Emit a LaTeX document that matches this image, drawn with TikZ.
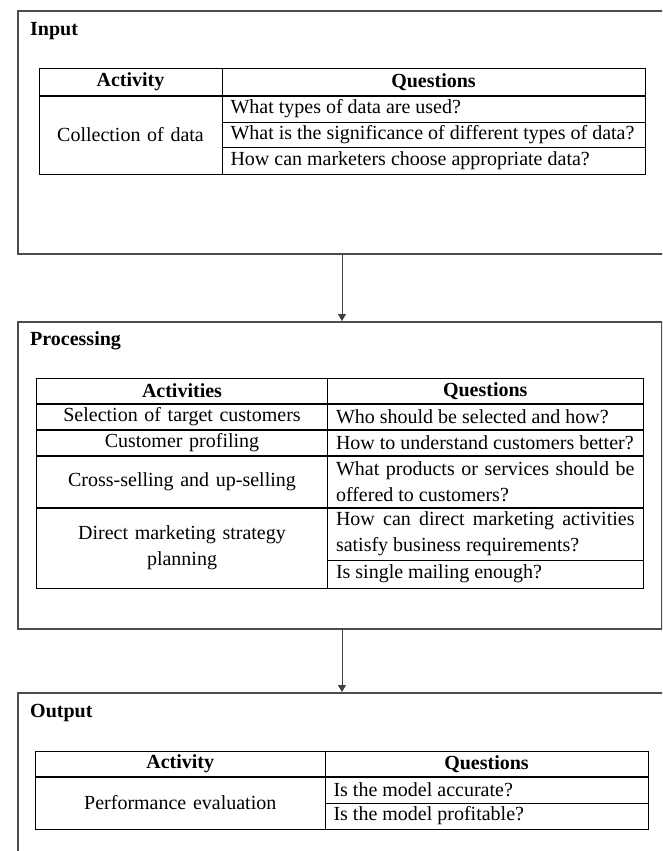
\documentclass[tikz,border=0pt]{standalone}
\usepackage{fontspec}
\setmainfont{Liberation Serif}
\usetikzlibrary{arrows.meta}
\newcommand{\tabfont}{\fontsize{20}{26}\selectfont}

\begin{document}
\begin{tikzpicture}[x=1pt, y=-1pt,
  stage/.style={draw=black!70, line width=1.6pt, anchor=north west, inner sep=0pt},
  title/.style={font=\tabfont\bfseries, anchor=west, inner sep=0pt},
  cell/.style ={draw=black, line width=.8pt, inner xsep=8.5pt, inner ysep=0pt,
                font=\tabfont},
  hd/.style   ={cell, align=center, font=\tabfont\bfseries},
  ac/.style   ={cell, align=center},
  qs/.style   ={cell, align=justify},
  rule/.style ={line width=2pt, draw=black},
  flow/.style ={-{Triangle[length=7pt,width=8pt]}, line width=.9pt, draw=black!75}]

  \useasboundingbox (0,0) rectangle (662,851);
  \clip (0,0) rectangle (662,851);

  % --- stage frames --------------------------------------------------------
  \node[stage, minimum width=650pt, minimum height=243pt] (input) at (17,10) {};
  \node[stage, minimum width=644pt, minimum height=307pt] (proc) at (17,321) {};
  \node[stage, minimum width=650pt, minimum height=200pt] (outp) at (17,692) {};

  \node[title] (inTitle) at (30,31) {Input};
  \node[title] (prTitle) at (30,341) {Processing};
  \node[title] (outTitle) at (30,713) {Output};

  % --- input table ---------------------------------------------------------
  \node[hd, text width=166pt, minimum height=28pt] (inAct) at (130.5,82) {Activity};
  \node[hd, text width=406pt, minimum height=28pt] (inQ) at (433.5,82) {Questions};
  \node[ac, text width=166pt, minimum height=78pt] (inCol) at (130.5,135)
    {Collection of data};
  \node[qs, text width=406pt, minimum height=26pt] (inQa) at (433.5,109)
    {What types of data are used?};
  \node[qs, text width=406pt, minimum height=25pt] (inQb) at (433.5,134.5)
    {What is the significance of different types of data?};
  \node[qs, text width=406pt, minimum height=27pt] (inQc) at (433.5,160.5)
    {How can marketers choose appropriate data?};
  \draw[rule] (inAct.south west) -- (inQ.south east);

  % --- processing table ----------------------------------------------------
  \node[hd, text width=274pt, minimum height=26pt] (prAct) at (182,391) {Activities};
  \node[hd, text width=298.5pt, minimum height=26pt] (prQ) at (485.25,391) {Questions};
  \node[ac, text width=274pt, minimum height=26pt] (prSel) at (182,417)
    {Selection of target customers};
  \node[qs, text width=298.5pt, minimum height=26pt] (prQa) at (485.25,417)
    {Who should be selected and how?};
  \node[ac, text width=274pt, minimum height=26pt] (prPro) at (182,443)
    {Customer profiling};
  \node[qs, text width=298.5pt, minimum height=26pt] (prQb) at (485.25,443)
    {How to understand customers better?};
  \node[ac, text width=274pt, minimum height=52pt] (prCross) at (182,482)
    {Cross-selling and up-selling};
  \node[qs, text width=298.5pt, minimum height=52pt] (prQc) at (485.25,482)
    {What products or services should be offered to customers?};
  \node[ac, text width=274pt, minimum height=80pt] (prDir) at (182,548)
    {Direct marketing strategy\\planning};
  \node[qs, text width=298.5pt, minimum height=52pt] (prQd) at (485.25,534)
    {How can direct marketing activities satisfy business requirements?};
  \node[qs, text width=298.5pt, minimum height=28pt] (prQe) at (485.25,574)
    {Is single mailing enough?};
  \draw[rule] (prAct.south west) -- (prQ.south east);
  \draw[rule] (prSel.south west) -- (prQa.south east);
  \draw[rule] (prPro.south west) -- (prQb.south east);
  \draw[rule] (prCross.south west) -- (prQc.south east);

  % --- output table --------------------------------------------------------
  \node[hd, text width=272.5pt, minimum height=26pt] (outAct) at (180.25,764) {Activity};
  \node[hd, text width=306pt, minimum height=26pt] (outQ) at (486.5,764) {Questions};
  \node[ac, text width=272.5pt, minimum height=52pt] (outPerf) at (180.25,803)
    {Performance evaluation};
  \node[qs, text width=306pt, minimum height=26pt] (outQa) at (486.5,790)
    {Is the model accurate?};
  \node[qs, text width=306pt, minimum height=26pt] (outQb) at (486.5,816)
    {Is the model profitable?};
  \draw[rule] (outAct.south west) -- (outQ.south east);

  % --- flow ----------------------------------------------------------------
  \coordinate (ax) at (342,0);
  \draw[flow] (input.south -| ax) -- (proc.north -| ax);
  \draw[flow] (proc.south -| ax) -- (outp.north -| ax);
\end{tikzpicture}
\end{document}
